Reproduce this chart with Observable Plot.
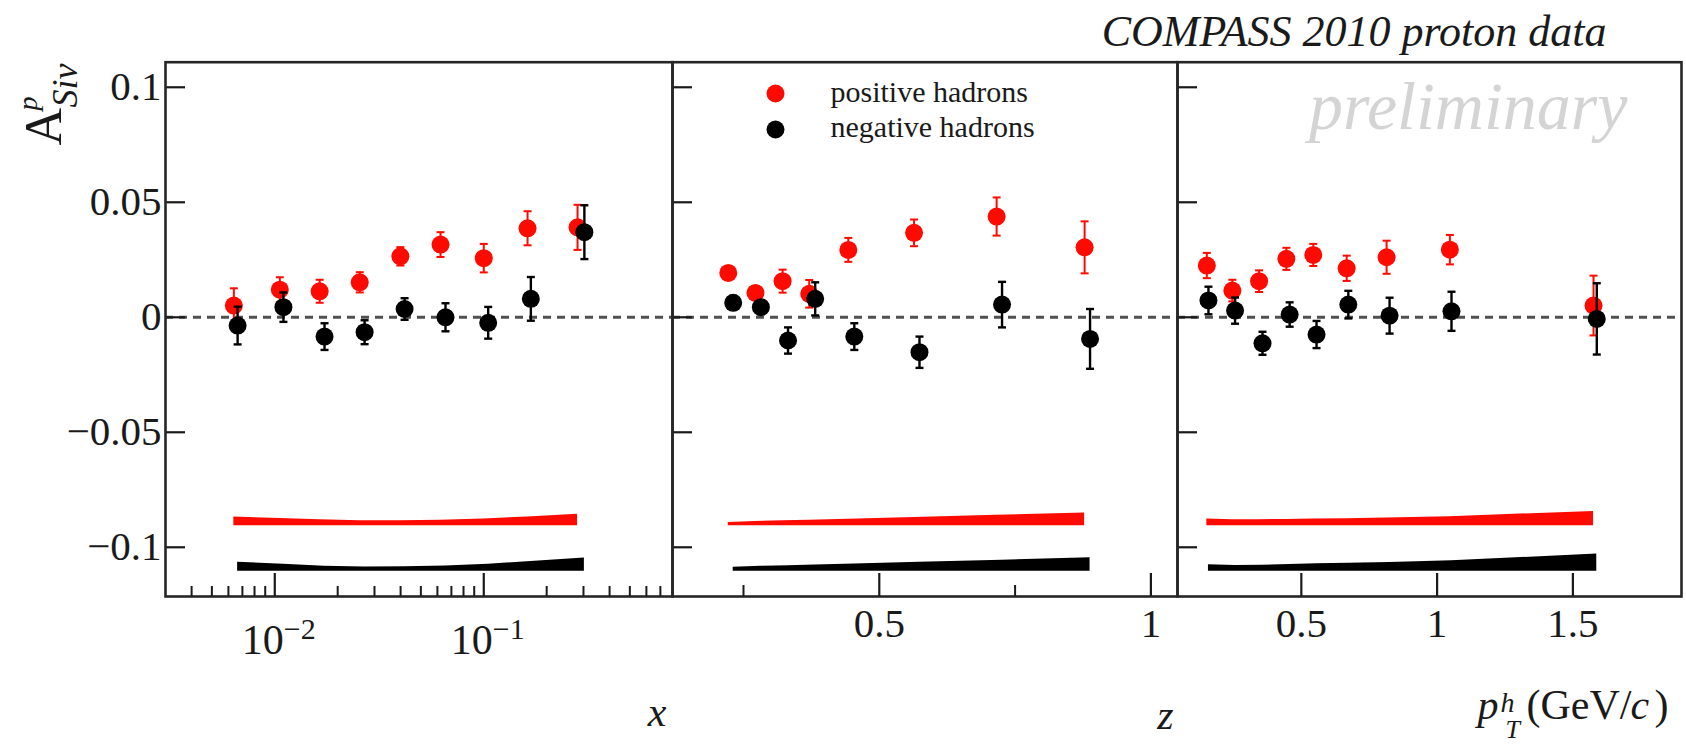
<!DOCTYPE html>
<html><head><meta charset="utf-8">
<script src="https://cdn.jsdelivr.net/npm/d3@7"></script>
<script src="https://cdn.jsdelivr.net/npm/@observablehq/plot@0.6"></script>
<style>
html,body{margin:0;padding:0;background:#fff;}
#chart{position:relative;width:1686px;height:744px;overflow:hidden;background:#fff;}
#chart svg{position:absolute;top:0;overflow:visible;background:transparent;max-width:none;}
</style></head><body><div id="chart"></div>
<script>
// ---------- axis ticks ----------
const yTicks = [-0.1, -0.05, 0, 0.05, 0.1];
const yTickLabels = ["\u22120.1", "\u22120.05", "0", "0.05", "0.1"];
const xLogMajor = [0.01, 0.1];
const xLogExp = ["\u22122", "\u22121"];
const xLogMinor = [0.004,0.005,0.006,0.007,0.008,0.009,0.02,0.03,0.04,0.05,0.06,0.07,0.08,0.09,0.2,0.3,0.4,0.5,0.6,0.7];
const zMajor = [0.5, 1];
const zMajorLabels = ["0.5", "1"];
const zMinor = [0.25, 0.75];
const ptMajor = [0.5, 1, 1.5];
const ptMajorLabels = ["0.5", "1", "1.5"];

// ---------- series: Sivers asymmetry vs x ----------
const xPos  = [0.00637, 0.01057, 0.0164, 0.0255, 0.0399, 0.0621, 0.100, 0.162, 0.281];
const aPosX = [0.0051, 0.0120, 0.0113, 0.0152, 0.0265, 0.0316, 0.0257, 0.0387, 0.0391];
const ePosX = [0.0075, 0.0054, 0.0050, 0.0044, 0.0040, 0.0054, 0.0062, 0.0074, 0.0098];
const sPosX = [0.0038, 0.0031, 0.0026, 0.0021, 0.0021, 0.0024, 0.0029, 0.0038, 0.0050];
const xNeg  = [0.00664, 0.0110, 0.0173, 0.0269, 0.0418, 0.0656, 0.105, 0.168, 0.303];
const aNegX = [-0.0036, 0.0044, -0.0084, -0.0065, 0.0036, 0.0000, -0.0024, 0.0080, 0.0370];
const eNegX = [0.0082, 0.0064, 0.0058, 0.0052, 0.0047, 0.0061, 0.0069, 0.0095, 0.0117];
const sNegX = [0.0039, 0.0030, 0.0022, 0.0018, 0.0019, 0.0023, 0.0030, 0.0042, 0.0057];

// ---------- series: vs z ----------
const zPos  = [0.222, 0.272, 0.322, 0.371, 0.443, 0.564, 0.716, 0.878];
const aPosZ = [0.0193, 0.0106, 0.0157, 0.0102, 0.0293, 0.0367, 0.0438, 0.0304];
const ePosZ = [0.0030, 0.0030, 0.0050, 0.0060, 0.0052, 0.0058, 0.0083, 0.0113];
const sPosZ = [0.0014, 0.0018, 0.0021, 0.0024, 0.0028, 0.0036, 0.0045, 0.0055];
const zNeg  = [0.231, 0.282, 0.332, 0.382, 0.454, 0.574, 0.726, 0.888];
const aNegZ = [0.0063, 0.0044, -0.0101, 0.0080, -0.0084, -0.0152, 0.0055, -0.0094];
const eNegZ = [0.0030, 0.0030, 0.0057, 0.0072, 0.0058, 0.0068, 0.0099, 0.0130];
const sNegZ = [0.0017, 0.0021, 0.0024, 0.0027, 0.0031, 0.0039, 0.0048, 0.0058];

// ---------- series: vs pT ----------
const ptPos  = [0.152, 0.246, 0.3445, 0.445, 0.544, 0.667, 0.814, 1.047, 1.576];
const aPosP  = [0.0225, 0.0116, 0.0157, 0.0254, 0.0271, 0.0213, 0.0261, 0.0294, 0.0051];
const ePosP  = [0.0055, 0.0047, 0.0047, 0.0048, 0.0048, 0.0055, 0.0072, 0.0064, 0.0130];
const sPosP  = [0.0029, 0.0026, 0.0026, 0.0027, 0.0029, 0.0030, 0.0033, 0.0039, 0.0062];
const ptNeg  = [0.158, 0.256, 0.357, 0.457, 0.556, 0.673, 0.825, 1.053, 1.588];
const aNegP  = [0.0073, 0.0029, -0.0113, 0.0012, -0.0075, 0.0055, 0.0007, 0.0026, -0.0007];
const eNegP  = [0.0060, 0.0057, 0.0050, 0.0053, 0.0059, 0.0060, 0.0078, 0.0085, 0.0155];
const sNegP  = [0.0028, 0.0025, 0.0026, 0.0029, 0.0032, 0.0035, 0.0038, 0.0045, 0.0075];

// systematic band baselines
const sysBasePos = -0.0906;
const sysBaseNeg = -0.1104;

const legendLabels = ["positive hadrons", "negative hadrons"];
const colorPos = "#ff0a00";
const colorNeg = "#000000";

// ---------- helpers ----------
const FONT = "'Liberation Serif', 'Times New Roman', serif";
const INK = "#1a1a1a";
const FRAME = "#262626";
const yDomain = [-0.1214, 0.1109];
const rows = (xs, as, es, ss) => xs.map((x, i) => ({x, a: as[i], e: es[i], s: ss[i]}));
const capSymbol = {draw(ctx, size) { const w = Math.sqrt(size / Math.PI); ctx.moveTo(-w, 0); ctx.lineTo(w, 0); }};

function errorMarks(data, color, w) {
  return [
    Plot.ruleX(data, {x: "x", y1: d => d.a - d.e, y2: d => d.a + d.e, stroke: color, strokeWidth: w}),
    Plot.dot(data, {x: "x", y: d => d.a + d.e, symbol: capSymbol, r: 4, stroke: color, strokeWidth: w, fill: "none"}),
    Plot.dot(data, {x: "x", y: d => d.a - d.e, symbol: capSymbol, r: 4, stroke: color, strokeWidth: w, fill: "none"}),
    Plot.dot(data, {x: "x", y: "a", r: 9, fill: color})
  ];
}

function commonMarks(pos, neg, withLabels) {
  return [
    Plot.ruleY([0], {stroke: "#505050", strokeWidth: 3, strokeDasharray: "8,6"}),
    Plot.areaY(pos, {x: "x", y1: () => sysBasePos, y2: d => sysBasePos + d.s, fill: colorPos}),
    Plot.areaY(neg, {x: "x", y1: () => sysBaseNeg, y2: d => sysBaseNeg + d.s, fill: colorNeg}),
    ...errorMarks(pos, colorPos, 2),
    ...errorMarks(neg, colorNeg, 2.4),
    Plot.axisY({ticks: yTicks, tickSize: -20, tickPadding: 24, label: null, color: INK, strokeWidth: 2.2, fontSize: 41,
      tickFormat: withLabels ? (d => yTickLabels[yTicks.indexOf(d)]) : (() => "")}),
    Plot.frame({stroke: FRAME, strokeWidth: 2.6})
  ];
}

const baseStyle = {fontFamily: FONT, overflow: "visible", background: "transparent", color: INK};
const chart = document.getElementById("chart");

// ---------- panel 1 : x ----------
const p1 = Plot.plot({
  width: 672, height: 744, marginLeft: 165, marginRight: 0, marginTop: 61.7, marginBottom: 148,
  style: baseStyle,
  x: {type: "log", domain: [0.003, 0.8]},
  y: {domain: yDomain},
  marks: [
    ...commonMarks(rows(xPos, aPosX, ePosX, sPosX), rows(xNeg, aNegX, eNegX, sNegX), true),
    Plot.axisX({ticks: xLogMajor, tickSize: -23, label: null, color: INK, strokeWidth: 2.2, tickFormat: () => ""}),
    Plot.axisX({ticks: xLogMinor, tickSize: -10, label: null, color: INK, strokeWidth: 2, tickFormat: () => ""}),
    Plot.text(xLogMajor, {x: d => d, frameAnchor: "bottom", text: () => "10", textAnchor: "end", lineAnchor: "bottom", dx: 9, dy: 57, fontSize: 42, fill: INK}),
    Plot.text(xLogMajor, {x: d => d, frameAnchor: "bottom", text: d => xLogExp[xLogMajor.indexOf(d)], textAnchor: "start", lineAnchor: "bottom", dx: 9, dy: 42, fontSize: 30, fill: INK}),
    Plot.text(["x"], {frameAnchor: "bottom-right", text: d => d, textAnchor: "end", lineAnchor: "bottom", dx: -6, dy: 129, fontSize: 42, fontStyle: "italic", fill: INK}),
    Plot.text(["A"], {frameAnchor: "top-left", text: d => d, rotate: -90, textAnchor: "start", lineAnchor: "bottom", dx: -105, dy: 83.3, fontSize: 52, fill: INK}),
    Plot.text(["p"], {frameAnchor: "top-left", text: d => d, rotate: -90, textAnchor: "start", lineAnchor: "bottom", dx: -129, dy: 48.3, fontSize: 28, fontStyle: "italic", fill: INK}),
    Plot.text(["Siv"], {frameAnchor: "top-left", text: d => d, rotate: -90, textAnchor: "start", lineAnchor: "bottom", dx: -88.5, dy: 45.3, fontSize: 36, fontStyle: "italic", fill: INK})
  ]
});
p1.style.left = "0px";
chart.appendChild(p1);

// ---------- panel 2 : z ----------
const p2 = Plot.plot({
  width: 505, height: 744, marginLeft: 0, marginRight: 0, marginTop: 61.7, marginBottom: 148,
  style: baseStyle,
  x: {domain: [0.1193, 1.049]},
  y: {domain: yDomain},
  marks: [
    ...commonMarks(rows(zPos, aPosZ, ePosZ, sPosZ), rows(zNeg, aNegZ, eNegZ, sNegZ), false),
    Plot.axisX({ticks: zMajor, tickSize: -23, tickPadding: 34, label: null, color: INK, strokeWidth: 2.2, fontSize: 41,
      tickFormat: d => zMajorLabels[zMajor.indexOf(d)]}),
    Plot.axisX({ticks: zMinor, tickSize: -11, label: null, color: INK, strokeWidth: 2, tickFormat: () => ""}),
    Plot.text(["z"], {frameAnchor: "bottom-right", text: d => d, textAnchor: "end", lineAnchor: "bottom", dx: -4, dy: 132, fontSize: 42, fontStyle: "italic", fill: INK}),
    Plot.dot([legendLabels[0]], {frameAnchor: "top-left", dx: 103, dy: 31.3, r: 9, fill: colorPos}),
    Plot.dot([legendLabels[1]], {frameAnchor: "top-left", dx: 103, dy: 67.3, r: 9, fill: colorNeg}),
    Plot.text([legendLabels[0]], {frameAnchor: "top-left", text: d => d, textAnchor: "start", lineAnchor: "bottom", dx: 158, dy: 40, fontSize: 30, fill: INK}),
    Plot.text([legendLabels[1]], {frameAnchor: "top-left", text: d => d, textAnchor: "start", lineAnchor: "bottom", dx: 158, dy: 75, fontSize: 30, fill: INK})
  ]
});
p2.style.left = "672px";
chart.appendChild(p2);

// ---------- panel 3 : pT ----------
const p3 = Plot.plot({
  width: 509, height: 744, marginLeft: 0, marginRight: 5, marginTop: 61.7, marginBottom: 148,
  style: baseStyle,
  x: {domain: [0.044, 1.90]},
  y: {domain: yDomain},
  marks: [
    Plot.text(["preliminary"], {frameAnchor: "top-right", text: d => d, textAnchor: "end", lineAnchor: "bottom", dx: -54, dy: 66.3, fontSize: 68, fontStyle: "italic", fill: "#d4d4d4"}),
    ...commonMarks(rows(ptPos, aPosP, ePosP, sPosP), rows(ptNeg, aNegP, eNegP, sNegP), false),
    Plot.axisX({ticks: ptMajor, tickSize: -23, tickPadding: 34, label: null, color: INK, strokeWidth: 2.2, fontSize: 41,
      tickFormat: d => ptMajorLabels[ptMajor.indexOf(d)]}),
    Plot.text(["COMPASS 2010 proton data"], {frameAnchor: "top-right", text: d => d, textAnchor: "end", lineAnchor: "bottom", dx: -75, dy: -16.7, fontSize: 44, fontStyle: "italic", fill: INK}),
    Plot.text(["p"], {frameAnchor: "bottom-right", text: d => d, textAnchor: "start", lineAnchor: "bottom", dx: -204, dy: 122, fontSize: 42, fontStyle: "italic", fill: INK}),
    Plot.text(["h"], {frameAnchor: "bottom-right", text: d => d, textAnchor: "start", lineAnchor: "bottom", dx: -181, dy: 115, fontSize: 28, fontStyle: "italic", fill: INK}),
    Plot.text(["T"], {frameAnchor: "bottom-right", text: d => d, textAnchor: "start", lineAnchor: "bottom", dx: -176, dy: 141, fontSize: 26, fontStyle: "italic", fill: INK}),
    Plot.text(["(GeV/"], {frameAnchor: "bottom-right", text: d => d, textAnchor: "start", lineAnchor: "bottom", dx: -155, dy: 122, fontSize: 42, fill: INK}),
    Plot.text(["c"], {frameAnchor: "bottom-right", text: d => d, textAnchor: "start", lineAnchor: "bottom", dx: -51, dy: 122, fontSize: 42, fontStyle: "italic", fill: INK}),
    Plot.text([")"], {frameAnchor: "bottom-right", text: d => d, textAnchor: "start", lineAnchor: "bottom", dx: -27, dy: 122, fontSize: 42, fill: INK})
  ]
});
p3.style.left = "1177px";
chart.appendChild(p3);
</script></body></html>
